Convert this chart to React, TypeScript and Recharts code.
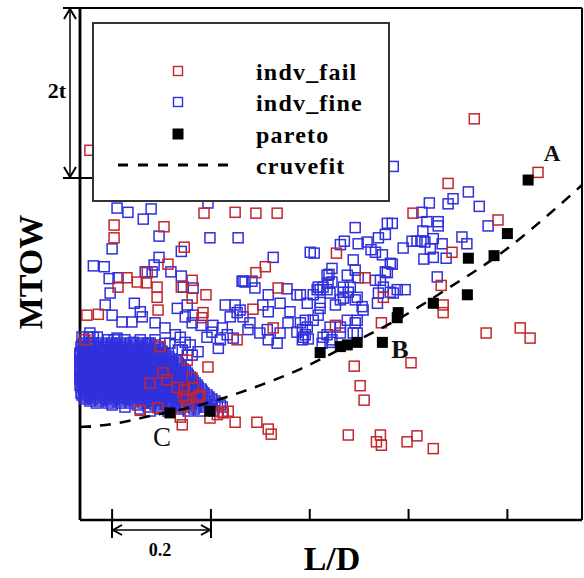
import React from 'react'
import { ScatterChart, Scatter, XAxis, YAxis, ReferenceLine } from 'recharts'

type Pt = [number, number]

// x: L/D (offset from first tick), y: MTOW in t
const failPts: Pt[] = [
  [0.733, 4.72], [-0.045, 4.35], [0.862, 4.09], [0.68, 3.96], [0.609, 3.61], [0.781, 3.53], [0.454, 3.14], [0.688, 3.15],
  [0.666, 2.76], [0.67, 2.53], [0.67, 2.44], [0.545, 2.32], [0.757, 2.2], [0.826, 2.26], [0.846, 2.14], [0.605, 1.85],
  [0.49, 1.81], [0.502, 1.58], [0.51, 1.41], [0.478, 1.0], [0.543, 1.0], [0.535, 0.92], [0.545, 0.88], [0.597, 0.92],
  [0.617, 0.99], [0.65, 0.84], [0.512, 2.85], [0.549, 2.62], [0.336, 2.73], [0.285, 2.48], [0.253, 2.12], [0.326, 2.26],
  [0.452, 2.29], [0.249, 1.15], [0.293, 1.15], [0.316, 1.07], [0.322, 1.01], [0.235, 1.28], [0.138, 1.21], [0.142, 1.12],
  [0.198, 1.2], [0.213, 1.24], [0.225, 1.26], [0.132, 1.56], [0.146, 1.53], [0.164, 1.55], [0.15, 1.42], [0.178, 1.47],
  [0.103, 1.73], [0.111, 1.65], [0.162, 1.67], [0.194, 1.8], [0.152, 1.88], [0.097, 2.04], [0.077, 1.61], [0.057, 1.29],
  [-0.051, 2.41], [-0.028, 2.42], [0.012, 2.74], [0.03, 2.85], [0.051, 2.8], [0.069, 2.79], [0.071, 2.91], [0.091, 2.74],
  [0.091, 2.62], [0.093, 2.47], [0.113, 3.01], [0.14, 2.74], [0.162, 2.82], [0.162, 2.61], [0.19, 2.65], [0.184, 2.44],
  [0.182, 2.38], [0.105, 3.45], [0.146, 3.21], [0.004, 3.47], [0.004, 3.32], [0.186, 3.61], [0.249, 3.62], [0.291, 3.61],
  [0.334, 3.61], [0.291, 2.91], [0.31, 2.98], [-0.055, 2.12], [0.223, 1.27], [0.174, 1.45], [0.144, 1.45], [0.154, 1.35],
  [0.093, 1.32],
]

const finePts: Pt[] = [
  [0.194, 3.73], [0.01, 3.67], [0.032, 3.62], [0.079, 3.66], [0.063, 3.54], [0.095, 3.34], [0.198, 3.32], [0.255, 3.32],
  [0.0, 3.19], [0.14, 3.16], [-0.038, 2.99], [-0.016, 2.98], [0.095, 3.09], [0.085, 3.0], [0.067, 2.92], [0.081, 2.92],
  [0.119, 2.92], [0.14, 2.87], [-0.006, 2.84], [0.012, 2.85], [0.144, 2.74], [0.164, 2.73], [0.263, 2.81],
  [0.492, 3.44], [0.557, 3.49], [0.567, 3.49], [0.553, 3.36], [0.47, 3.28], [0.462, 3.24], [0.498, 3.25], [0.516, 3.27],
  [0.539, 3.32], [0.401, 3.15], [0.409, 3.14], [0.524, 3.18], [0.533, 3.15], [0.547, 3.12], [0.589, 3.2], [0.326, 3.09],
  [0.488, 3.06], [0.567, 3.01], [0.445, 2.96], [0.492, 2.94], [0.283, 2.81], [0.265, 2.81], [0.289, 2.73], [0.439, 2.89],
  [0.437, 2.79], [0.476, 2.88], [0.553, 2.92], [0.533, 2.82], [0.543, 2.82], [0.354, 2.72], [0.374, 2.65], [0.421, 2.71],
  [0.435, 2.71], [0.468, 2.68], [0.482, 2.74], [0.577, 2.71], [0.593, 2.71], [0.316, 2.65],
  [0.569, 4.16], [0.721, 3.86], [0.69, 3.78], [0.68, 3.72], [0.642, 3.73], [0.627, 3.62], [0.743, 3.69], [0.637, 3.51],
  [0.66, 3.51], [0.66, 3.46], [0.629, 3.4], [0.761, 3.46], [0.708, 3.33], [0.718, 3.25], [0.607, 3.28], [0.617, 3.28],
  [0.625, 3.28], [0.633, 3.27], [0.65, 3.31], [0.644, 3.19], [0.668, 3.25], [0.65, 3.09], [0.631, 3.07], [0.676, 3.08],
  [0.658, 2.86],
  [0.269, 2.8], [0.34, 2.55], [0.305, 2.53], [0.316, 2.45], [0.253, 2.44], [0.265, 2.39], [0.279, 2.32], [0.275, 2.24],
  [0.299, 2.2], [0.316, 2.12], [0.334, 2.08], [0.34, 2.2], [0.356, 2.32], [0.36, 2.45], [0.381, 2.32], [0.374, 2.21],
  [0.385, 2.24], [0.391, 2.18], [0.397, 2.13], [0.385, 2.12], [0.407, 2.35], [0.417, 2.41], [0.421, 2.49], [0.415, 2.71],
  [0.427, 2.74], [0.441, 2.67], [0.452, 2.53], [0.468, 2.61], [0.478, 2.68], [0.492, 2.59], [0.508, 2.47], [0.496, 2.35],
  [0.476, 2.35], [0.462, 2.27], [0.441, 2.27], [0.435, 2.18], [0.441, 2.09], [0.462, 2.2], [0.488, 2.2], [0.425, 2.08],
  [0.492, 2.32], [0.537, 2.55], [0.539, 2.67], [0.549, 2.74], [0.569, 2.67], [0.239, 2.39], [0.245, 2.14],
  [0.435, 2.88], [0.417, 2.74], [0.445, 2.8], [0.468, 2.74], [0.498, 2.85], [0.557, 2.91], [0.563, 3.02], [0.563, 2.68],
  [0.407, 2.65], [0.421, 2.56], [0.462, 2.59], [0.496, 2.62], [0.506, 2.51], [0.381, 2.65], [0.391, 2.35], [0.395, 2.27],
  [0.387, 2.15], [0.427, 2.15], [0.496, 2.2], [0.445, 2.12],
  [-0.014, 2.53], [0.045, 2.55], [0.0, 2.41], [0.02, 2.33], [0.04, 2.33], [0.061, 2.39], [0.087, 2.32], [-0.045, 2.2],
  [0.107, 2.26], [0.132, 2.49], [0.148, 2.39], [0.162, 2.32], [0.18, 2.29], [0.229, 2.53], [0.202, 2.21], [0.148, 2.09],
  [0.142, 2.0], [0.162, 1.94], [0.121, 1.8], [0.107, 2.08], [0.101, 1.96], [0.215, 2.02], [0.223, 2.26], [0.233, 2.18],
  [0.004, 2.12], [0.01, 2.14], [0.043, 2.09], [0.073, 2.08], [-0.038, 2.15], [-0.008, 2.12], [0.057, 2.45], [0.152, 2.53],
  [0.164, 2.41], [0.204, 2.29], [0.219, 2.12], [0.259, 2.47], [0.314, 2.24], [0.395, 2.55], [0.138, 2.15], [0.117, 2.08],
  [0.134, 2.0], [0.158, 2.06], [0.152, 1.94], [0.174, 1.98], [0.192, 2.15], [0.123, 1.85], [0.128, 2.18], [0.087, 2.12],
  [0.057, 2.12], [0.026, 2.12], [0.249, 2.53], [-0.004, 2.67],
]

// the packed cloud at low L/D, one MTOW level per row
const fineDenseRows: [number, number[]][] = [
  [2.153, [-0.061, -0.047, -0.03]],
  [2.082, [-0.057, -0.038, -0.022, 0, 0.016, 0.038, 0.061, 0.077]],
  [2.059, [-0.061, -0.045, -0.028, -0.012, 0.008, 0.028, 0.049, 0.069, 0.087]],
  [2.035, [-0.063, -0.049, -0.034, -0.022, -0.008, 0.004, 0.018, 0.03, 0.045, 0.057, 0.071, 0.093]],
  [2.012, [-0.057, -0.043, -0.028, -0.016, -0.002, 0.012, 0.024, 0.038, 0.051, 0.065, 0.077, 0.097]],
  [1.988, [-0.059, -0.047, -0.036, -0.024, -0.012, -0.002, 0.01, 0.022, 0.034, 0.047, 0.059, 0.069, 0.083, 0.101]],
  [1.965, [-0.065, -0.053, -0.04, -0.03, -0.018, -0.006, 0.004, 0.016, 0.028, 0.04, 0.053, 0.065, 0.077, 0.091, 0.105]],
  [1.941, [-0.065, -0.053, -0.04, -0.03, -0.018, -0.006, 0.006, 0.016, 0.028, 0.04, 0.053, 0.065, 0.077, 0.091, 0.109]],
  [1.918, [-0.059, -0.047, -0.034, -0.024, -0.012, 0, 0.012, 0.022, 0.034, 0.047, 0.059, 0.071, 0.085, 0.099, 0.115]],
  [1.894, [-0.061, -0.049, -0.038, -0.026, -0.014, -0.002, 0.008, 0.02, 0.032, 0.045, 0.055, 0.067, 0.079, 0.093, 0.107, 0.121]],
  [1.871, [-0.065, -0.055, -0.043, -0.032, -0.02, -0.008, 0.002, 0.014, 0.026, 0.038, 0.049, 0.061, 0.073, 0.087, 0.101, 0.117, 0.13]],
  [1.847, [-0.065, -0.055, -0.043, -0.03, -0.02, -0.008, 0.004, 0.014, 0.026, 0.038, 0.051, 0.061, 0.073, 0.085, 0.097, 0.111, 0.134]],
  [1.824, [-0.061, -0.049, -0.036, -0.026, -0.014, -0.002, 0.01, 0.02, 0.032, 0.045, 0.057, 0.067, 0.079, 0.091, 0.105, 0.121, 0.138]],
  [1.8, [-0.059, -0.049, -0.036, -0.024, -0.014, -0.002, 0.01, 0.02, 0.032, 0.045, 0.057, 0.067, 0.079, 0.091, 0.103, 0.117, 0.14]],
  [1.776, [-0.065, -0.053, -0.043, -0.03, -0.018, -0.008, 0.004, 0.016, 0.026, 0.038, 0.051, 0.063, 0.073, 0.085, 0.097, 0.111, 0.13, 0.144]],
  [1.753, [-0.065, -0.053, -0.04, -0.03, -0.018, -0.006, 0.004, 0.016, 0.028, 0.04, 0.051, 0.063, 0.075, 0.087, 0.099, 0.109, 0.125, 0.148]],
  [1.729, [-0.059, -0.047, -0.034, -0.024, -0.012, 0, 0.01, 0.022, 0.034, 0.047, 0.057, 0.069, 0.081, 0.093, 0.105, 0.119, 0.138, 0.152]],
  [1.706, [-0.061, -0.049, -0.036, -0.024, -0.012, -0.002, 0.01, 0.022, 0.034, 0.045, 0.057, 0.069, 0.081, 0.093, 0.105, 0.117, 0.132, 0.154]],
  [1.682, [-0.065, -0.055, -0.043, -0.03, -0.018, -0.006, 0.004, 0.016, 0.028, 0.04, 0.051, 0.063, 0.075, 0.087, 0.099, 0.111, 0.125, 0.144, 0.158]],
  [1.659, [-0.065, -0.055, -0.043, -0.03, -0.018, -0.008, 0.004, 0.016, 0.028, 0.038, 0.051, 0.063, 0.075, 0.087, 0.099, 0.111, 0.123, 0.138, 0.16]],
  [1.635, [-0.061, -0.049, -0.036, -0.024, -0.012, -0.002, 0.01, 0.022, 0.034, 0.045, 0.057, 0.069, 0.081, 0.093, 0.105, 0.117, 0.13, 0.146, 0.164]],
  [1.612, [-0.059, -0.047, -0.034, -0.024, -0.012, 0, 0.012, 0.024, 0.034, 0.047, 0.059, 0.071, 0.083, 0.095, 0.107, 0.119, 0.134, 0.15, 0.168]],
  [1.588, [-0.065, -0.053, -0.04, -0.028, -0.018, -0.006, 0.006, 0.018, 0.028, 0.04, 0.053, 0.065, 0.077, 0.089, 0.101, 0.113, 0.125, 0.14, 0.158, 0.172]],
  [1.565, [-0.063, -0.051, -0.04, -0.028, -0.016, -0.004, 0.008, 0.018, 0.03, 0.043, 0.055, 0.067, 0.079, 0.091, 0.103, 0.115, 0.13, 0.144, 0.174]],
  [1.541, [-0.057, -0.045, -0.034, -0.022, -0.01, 0.002, 0.012, 0.024, 0.036, 0.049, 0.061, 0.073, 0.085, 0.097, 0.109, 0.121, 0.136, 0.152, 0.168, 0.18]],
  [1.518, [-0.057, -0.045, -0.032, -0.02, -0.008, 0.002, 0.014, 0.026, 0.038, 0.051, 0.063, 0.075, 0.087, 0.099, 0.113, 0.128, 0.142, 0.158, 0.182]],
  [1.494, [-0.063, -0.051, -0.038, -0.026, -0.014, -0.004, 0.008, 0.02, 0.032, 0.045, 0.057, 0.069, 0.081, 0.093, 0.105, 0.119, 0.134, 0.148, 0.164, 0.186]],
  [1.471, [-0.061, -0.049, -0.036, -0.024, -0.012, 0, 0.012, 0.024, 0.036, 0.049, 0.061, 0.073, 0.085, 0.097, 0.109, 0.123, 0.138, 0.154, 0.17, 0.192]],
  [1.447, [-0.057, -0.045, -0.032, -0.018, -0.004, 0.01, 0.024, 0.038, 0.053, 0.067, 0.081, 0.095, 0.109, 0.123, 0.14, 0.156, 0.172, 0.196]],
  [1.424, [-0.055, -0.04, -0.026, -0.012, 0.004, 0.018, 0.032, 0.047, 0.061, 0.075, 0.089, 0.103, 0.117, 0.132, 0.148, 0.164, 0.18, 0.202]],
  [1.4, [-0.045, -0.024, -0.002, 0.02, 0.043, 0.063, 0.083, 0.101, 0.119, 0.138, 0.154, 0.17, 0.188, 0.208]],
  [1.376, [-0.032, -0.008, 0.016, 0.038, 0.063, 0.079, 0.095, 0.111, 0.128, 0.144, 0.16, 0.176, 0.213]],
  [1.353, [0, 0.051, 0.087, 0.109, 0.134, 0.158, 0.18, 0.202, 0.219]],
  [1.329, [0.026, 0.073, 0.097, 0.121, 0.146, 0.17, 0.19, 0.223]],
  [1.306, [0.057, 0.097, 0.138, 0.166, 0.198]],
  [1.282, [0.077, 0.113, 0.154, 0.178, 0.206]],
]

const paretoPts: Pt[] = [
  [0.117, 1.26], [0.198, 1.28], [0.421, 1.97], [0.462, 2.04], [0.476, 2.06], [0.496, 2.09], [0.547, 2.09], [0.577, 2.38],
  [0.579, 2.44], [0.65, 2.55], [0.719, 2.65], [0.721, 3.08], [0.773, 3.11], [0.8, 3.37], [0.842, 4.0],
]

const fitPts: Pt[] = [
  [-0.065, 1.094], [0, 1.129], [0.077, 1.224], [0.178, 1.353], [0.279, 1.541], [0.381, 1.776], [0.482, 2.071],
  [0.583, 2.376], [0.684, 2.741], [0.785, 3.129], [0.887, 3.612], [0.951, 3.941],
]

const xTicks = [0, 0.2, 0.4, 0.6, 0.8]
const yTicks = [1.094, 2.012]
const legendNames = ['indv_fail', 'indv_fine', 'pareto', 'cruvefit']

const RED = '#c2272d'
const BLUE = '#3030dc'
const SERIF = '"Liberation Serif", "Times New Roman", serif'

const toObj = (p: Pt[]) => p.map(([x, y]) => ({ x, y }))
const failData = toObj(failPts)
const fineData = [...toObj(finePts), ...fineDenseRows.flatMap(([y, xs]) => xs.map((x) => ({ x, y })))]
const paretoData = toObj(paretoPts)
const fitData = toObj(fitPts)

const openSquare = (color: string) => (p: any) => (
  <rect x={p.cx - 5} y={p.cy - 5} width={10} height={10} fill="none" stroke={color} strokeWidth={1.5} />
)
const solidSquare = (p: any) => <rect x={p.cx - 5.5} y={p.cy - 5.5} width={11} height={11} fill="#000" />
const noShape = () => <g />

const Overlay = () => {
  const ln = { stroke: '#000', strokeWidth: 2, fill: 'none' }
  return (
    <svg width={584} height={578} style={{ position: 'absolute', left: 0, top: 0, pointerEvents: 'none' }} fontFamily={SERIF}>
      {/* 2t bracket */}
      <line x1={63} y1={8} x2={80} y2={8} {...ln} />
      <line x1={63} y1={178} x2={93} y2={178} {...ln} />
      <line x1={70} y1={9} x2={70} y2={177} stroke="#000" strokeWidth={1.5} />
      <polyline points="64,19 70,9 76,19" {...ln} />
      <polyline points="64,167 70,177 76,167" {...ln} />
      <text x={57} y={98} textAnchor="middle" fontSize={22} fontWeight="bold">2t</text>
      {/* 0.2 bracket */}
      <line x1={112} y1={520} x2={112} y2={538} {...ln} />
      <line x1={211} y1={520} x2={211} y2={538} {...ln} />
      <line x1={113} y1={530} x2={210} y2={530} stroke="#000" strokeWidth={1.5} />
      <polyline points="122,525 113,530 122,535" {...ln} />
      <polyline points="201,525 210,530 201,535" {...ln} />
      <text x={160} y={556} textAnchor="middle" fontSize={18} fontWeight="bold">0.2</text>
      {/* axis titles */}
      <text x={332} y={570} textAnchor="middle" fontSize={34} fontWeight="bold">L/D</text>
      <text x={30} y={272} textAnchor="middle" dominantBaseline="central" fontSize={34} fontWeight="bold" transform="rotate(-90 30 272)">MTOW</text>
      {/* point labels */}
      <text x={552} y={161} textAnchor="middle" fontSize={23} fontWeight="bold" fill="#111">A</text>
      <text x={400} y={358} textAnchor="middle" fontSize={26} fontWeight="bold" fill="#111">B</text>
      <text x={162} y={446} textAnchor="middle" fontSize={27} fill="#111">C</text>
      {/* legend */}
      <rect x={93} y={23} width={296} height={178} fill="#fff" stroke="#333" strokeWidth={2} />
      <rect x={173.5} y={66.5} width={9} height={9} fill="none" stroke={RED} strokeWidth={1.4} />
      <rect x={173.5} y={97.5} width={9} height={9} fill="none" stroke={BLUE} strokeWidth={1.4} />
      <rect x={172.5} y={128.5} width={11} height={11} fill="#000" />
      <line x1={118} y1={165} x2={234} y2={165} stroke="#000" strokeWidth={3} strokeDasharray="10 10" />
      {legendNames.map((name, i) => (
        <text key={name} x={256} y={[80, 111, 143, 174][i]} fontSize={24} fontWeight="bold" letterSpacing={1.2}>{name}</text>
      ))}
    </svg>
  )
}

export default function App() {
  return (
    <div style={{ position: 'absolute', left: 0, top: 0, width: 584, height: 578, background: '#fff' }}>
      <ScatterChart width={584} height={578} margin={{ top: 8, right: 2, bottom: 58, left: 80 }}>
        <Scatter data={fineData} shape={openSquare(BLUE)} isAnimationActive={false} />
        <Scatter data={failData} shape={openSquare(RED)} isAnimationActive={false} />
        <Scatter data={fitData} shape={noShape} line={{ stroke: '#000', strokeWidth: 2.5, strokeDasharray: '11 9' }} lineJointType="monotoneX" isAnimationActive={false} />
        <Scatter data={paretoData} shape={solidSquare} isAnimationActive={false} />
        <ReferenceLine y={6.024} stroke="#000" strokeWidth={2} />
        <ReferenceLine x={0.951} stroke="#000" strokeWidth={2} />
        <ReferenceLine x={-0.065} stroke="#000" strokeWidth={2.5} />
        <XAxis type="number" dataKey="x" domain={[-0.065, 0.951]} ticks={xTicks} tickFormatter={() => ''} mirror tickSize={11}
          axisLine={{ stroke: '#000', strokeWidth: 2.5 }} tickLine={{ stroke: '#000', strokeWidth: 2 }} />
        <YAxis type="number" dataKey="y" domain={[0, 6.024]} ticks={yTicks} tickFormatter={() => ''} mirror tickSize={11}
          axisLine={{ stroke: '#000', strokeWidth: 2.5 }} tickLine={{ stroke: '#000', strokeWidth: 2 }} />
      </ScatterChart>
      <Overlay />
    </div>
  )
}
